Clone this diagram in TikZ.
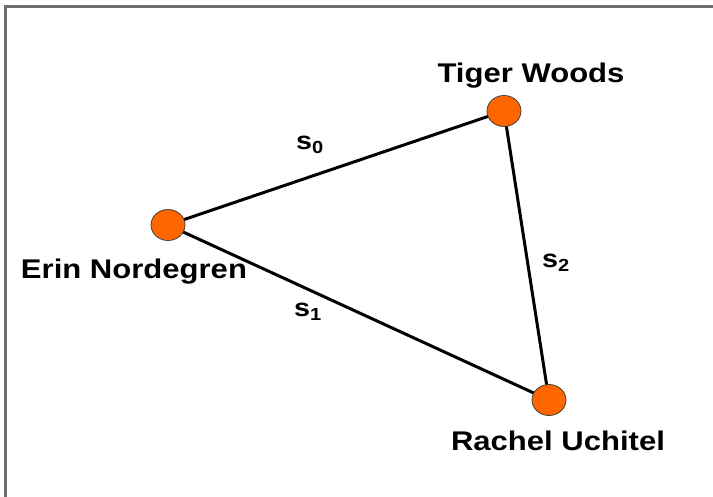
\documentclass[tikz,border=0pt]{standalone}
\usepackage{fontspec}
\setmainfont{Liberation Sans}
\usetikzlibrary{shapes.geometric,backgrounds}
\definecolor{dotorange}{RGB}{255,102,0}
\definecolor{framegray}{RGB}{110,110,110}
\tikzset{
  person/.style={ellipse, draw=black!75, line width=0.8pt, fill=dotorange, minimum width=34pt, minimum height=31pt, inner sep=0pt},
  tie/.style={line width=3pt, black},
  namelabel/.style={anchor=base, inner sep=0pt, font=\bfseries\fontsize{27}{30}\selectfont},
  edgelabel/.style={anchor=base west, inner sep=0pt, font=\bfseries\fontsize{25}{28}\selectfont}
}
\newcommand{\wide}[1]{\scalebox{1.15}[1]{#1}}
\begin{document}
\begin{tikzpicture}[x=1pt,y=-1pt]
\useasboundingbox (0,0) rectangle (713,497);
\node[person] (e) at (168,225) {};
\node[person] (t) at (504,111) {};
\node[person] (r) at (549,400) {};
\begin{scope}[on background layer]
\fill[white] (0,0) rectangle (713,497);
\draw[line width=3pt, framegray] (5.5,497) -- (5.5,7) -- (713,7);
\draw[tie] (e.center) -- (t.center);
\draw[tie] (e.center) -- (r.center);
\draw[tie] (t.center) -- (r.center);
\end{scope}
\node[namelabel] (lt) at (531,83) {\wide{Tiger Woods}};
\node[namelabel] (le) at (134,279) {\wide{Erin Nordegren}};
\node[namelabel] (lr) at (558,450) {\wide{Rachel Uchitel}};
\node[edgelabel] (s0) at (296,150) {\wide{s\textsubscript{0}}};
\node[edgelabel] (s1) at (294,317) {\wide{s\textsubscript{1}}};
\node[edgelabel] (s2) at (542,268) {\wide{s\textsubscript{2}}};
\end{tikzpicture}
\end{document}
